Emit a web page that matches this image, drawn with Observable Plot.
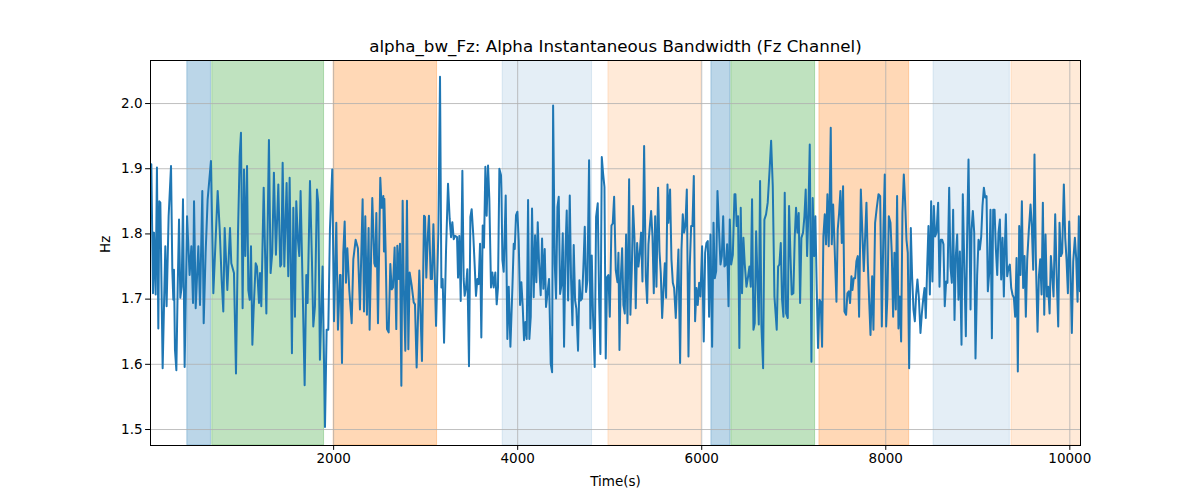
<!DOCTYPE html>
<html>
<head>
<meta charset="utf-8">
<script src="https://cdn.jsdelivr.net/npm/d3@7"></script>
<script src="https://cdn.jsdelivr.net/npm/@observablehq/plot@0.6"></script>
<style>
  body { margin: 0; background: #fff; }
  #chart svg { display: block; font-family: "DejaVu Sans", sans-serif; }
</style>
</head>
<body>
<div id="chart"></div>
<script>
const titleText = "alpha_bw_Fz: Alpha Instantaneous Bandwidth (Fz Channel)";
const xLabel = "Time(s)";
const yLabel = "Hz";
const xTicks = [2000, 4000, 6000, 8000, 10000];
const yTicks = [1.5, 1.6, 1.7, 1.8, 1.9, 2.0];
const xDomain = [10, 10116];
const yDomain = [1.4755, 2.066];

const bandStart = [410, 681, 2000, 3837, 4986, 6105, 6322, 7279, 8519, 9366];
const bandEnd   = [667, 1896, 3124, 4808, 5995, 6312, 7232, 8254, 9348, 10300];
const bandColor = ["#1f77b4", "#2ca02c", "#ff7f0e", "#1f77b4", "#ff7f0e", "#1f77b4", "#2ca02c", "#ff7f0e", "#1f77b4", "#ff7f0e"];
const bandAlpha = [0.3, 0.3, 0.3, 0.12, 0.16, 0.3, 0.3, 0.3, 0.12, 0.16];

const times = [
10,19,37,48,66,80,95,106,117,142,171,185,207,233,247,258,265,276,291,305,320,334,349,363,381,407,435,454,472,483,501,530,548,573,588,609,631,667,693,740,762,783,801,816,845,874,888,917,939,961,979,993,1011,1026,1040,1059,1073,1088,1102,1117,1131,1153,1167,1189,1200,1214,1240,1269,
1297,1315,1333,1351,1373,1399,1420,1431,1446,1464,1489,1507,1522,1547,1562,1580,1594,1612,1627,1641,1663,1685,1703,1717,1743,1764,1779,1797,1819,1833,1851,1880,1906,1924,1942,1960,1985,2004,2029,2047,2069,2076,2091,2105,2120,2134,2149,2170,2196,2214,2239,2264,2286,2315,2330,2344,2362,2380,2391,2420,2442,2453,2464,2482,2507,2522,2540,2547,
2551,2565,2580,2598,2616,2631,2645,2663,2681,2692,2707,2721,2736,2750,2761,2779,2797,2812,2826,2848,2870,2884,2902,2931,2960,2982,2993,3007,3022,3036,3055,3069,3084,3098,3113,3138,3156,3171,3185,3200,3221,3243,3261,3276,3290,3305,3319,3341,3352,3366,3381,3399,3413,3424,3439,3453,3471,3486,3500,3518,3533,3547,3562,3576,3591,3605,3620,3634,3649,3663,3678,3692,3710,3725,3739,3757,3772,3786,3801,3819,
3823,3834,3848,3870,3888,3903,3921,3943,3957,3968,3982,3997,4011,4026,4040,4055,4069,4084,4098,4113,4127,4142,4156,4174,4189,4203,4218,4232,4250,4265,4279,4294,4308,4323,4341,4359,4374,4385,4403,4417,4432,4446,4461,4475,4490,4504,4519,4533,4548,4566,4580,4595,4609,4624,4638,4656,4671,4685,4700,4714,4729,4743,4758,4776,4790,4805,4819,4837,4852,4870,4885,4899,4914,4928,4943,4957,4972,4986,5001,5019,5033,5048,5066,5084,
5095,5106,5120,5135,5149,5164,5178,5193,5211,5225,5240,5254,5269,5283,5298,5312,5327,5341,5356,5374,5392,5407,5421,5436,5450,5465,5479,5494,5508,5526,5541,5555,5570,5584,5599,5613,5628,5638,5656,5671,5686,5700,5718,5733,5747,5765,5780,5794,5809,5823,5838,5856,5870,5885,5899,5914,5928,5943,5957,5972,5986,6004,6022,6037,6051,6066,6080,6095,6113,6128,6142,6157,6171,6189,6204,6218,6233,6247,6262,6276,6291,6305,6320,6338,6356,
6366,6380,6395,6409,6424,6438,6453,6467,6486,6504,6518,6533,6547,6562,6576,6591,6605,6620,6634,6649,6667,6681,6699,6717,6739,6754,6772,6790,6815,6830,6844,6859,6873,6888,6902,6917,6935,6949,6964,6978,6996,7011,7025,7040,7054,7069,7083,7101,7116,7130,7145,7159,7174,7192,7206,7221,7235,7250,7264,7279,7293,7308,7322,7337,7351,7366,7380,7391,7402,7413,7428,7446,7464,7478,7493,7507,7522,7536,7551,7569,7583,7598,7612,7627,
7638,7652,7667,7681,7696,7710,7729,7747,7761,7776,7790,7805,7819,7834,7852,7866,7884,7902,7921,7939,7957,7975,7989,8004,8018,8033,8051,8065,8080,8094,8109,8123,8138,8152,8167,8181,8196,8210,8225,8239,8254,8272,8286,8301,8316,8330,8344,8359,8377,8392,8406,8421,8435,8450,8464,8479,8493,8507,8522,8536,8551,8569,8584,8598,8613,8627,8641,8656,8670,8689,8703,8718,8732,8747,8761,8776,8790,8805,8823,8837,8855,8870,8884,8899,
8921,8932,8946,8961,8975,8993,9008,9022,9037,9051,9066,9080,9095,9109,9124,9138,9153,9167,9182,9196,9211,9225,9240,9254,9269,9283,9294,9305,9319,9334,9348,9363,9377,9392,9406,9421,9435,9450,9464,9479,9493,9508,9522,9537,9555,9573,9587,9602,9616,9631,9649,9664,9678,9693,9707,9722,9736,9751,9765,9780,9794,9809,9823,9841,9856,9874,9888,9903,9917,9935,9950,9964,9979,9993,10008,10022,10037,10055,10069,10084,10098,10109,10116
];

const values = [
1.880,1.907,1.709,1.802,1.707,1.902,1.655,1.850,1.848,1.594,1.781,1.689,1.827,1.904,1.745,1.699,1.745,1.622,1.591,1.714,1.822,1.702,1.719,1.853,1.596,1.827,1.737,1.781,1.694,1.850,1.686,1.781,1.691,1.866,1.663,1.771,1.853,1.912,1.709,1.866,1.807,1.730,1.681,1.809,1.714,1.809,1.755,1.740,1.586,1.802,1.919,1.955,1.686,1.899,1.766,1.904,1.714,1.699,1.781,1.630,1.684,1.755,1.750,1.694,1.740,1.689,1.871,1.678,
1.944,1.740,1.771,1.894,1.768,1.876,1.750,1.753,1.909,1.750,1.878,1.735,1.886,1.617,1.840,1.673,1.850,1.791,1.766,1.866,1.719,1.568,1.737,1.694,1.881,1.761,1.658,1.689,1.868,1.848,1.607,1.750,1.504,1.653,1.653,1.807,1.899,1.666,1.817,1.653,1.737,1.737,1.602,1.771,1.819,1.725,1.778,1.714,1.663,1.761,1.791,1.778,1.684,1.853,1.681,1.827,1.676,1.809,1.653,1.855,1.755,1.750,1.832,1.663,1.886,1.840,1.858,1.773,
1.854,1.774,1.654,1.649,1.754,1.715,1.718,1.779,1.654,1.782,1.731,1.785,1.567,1.851,1.731,1.621,1.851,1.623,1.741,1.721,1.695,1.692,1.595,1.744,1.605,1.828,1.826,1.733,1.792,1.828,1.731,1.731,1.815,1.741,1.659,1.803,2.041,1.718,1.731,1.633,1.772,1.877,1.823,1.795,1.818,1.792,1.797,1.795,1.733,1.797,1.697,1.897,1.731,1.705,1.718,1.746,1.597,1.826,1.838,1.797,1.751,1.705,1.731,1.723,1.785,1.641,1.813,1.779,1.903,1.828,1.905,1.854,1.718,1.741,1.718,1.741,1.692,1.718,1.900,1.890,
1.870,1.760,1.742,1.859,1.639,1.719,1.627,1.719,1.785,1.777,1.829,1.834,1.790,1.691,1.726,1.688,1.637,1.665,1.639,1.852,1.639,1.673,1.839,1.703,1.798,1.726,1.818,1.757,1.706,1.793,1.716,1.777,1.688,1.708,1.731,1.601,1.588,1.997,1.754,1.701,1.841,1.857,1.708,1.721,1.801,1.627,1.772,1.836,1.698,1.859,1.731,1.660,1.783,1.698,1.685,1.621,1.729,1.698,1.701,1.749,1.811,1.711,1.729,1.913,1.655,1.767,1.673,1.596,1.826,1.847,1.698,1.616,1.918,1.893,1.872,1.609,1.734,1.737,1.673,1.813,1.816,1.857,1.744,1.726,
1.771,1.622,1.730,1.778,1.691,1.678,1.799,1.663,1.884,1.676,1.745,1.843,1.794,1.686,1.786,1.750,1.771,1.802,1.727,1.935,1.735,1.694,1.784,1.812,1.835,1.796,1.709,1.827,1.719,1.871,1.773,1.740,1.671,1.714,1.755,1.702,1.876,1.817,1.868,1.761,1.725,1.717,1.671,1.725,1.776,1.602,1.776,1.830,1.802,1.814,1.868,1.612,1.750,1.812,1.812,1.889,1.666,1.717,1.691,1.725,1.704,1.781,1.635,1.771,1.786,1.789,1.673,1.799,1.627,1.817,1.732,1.743,1.866,1.802,1.753,1.766,1.827,1.750,1.753,1.784,1.689,1.822,1.753,1.768,1.861,
1.861,1.812,1.827,1.625,1.840,1.709,1.794,1.755,1.719,1.735,1.750,1.719,1.853,1.653,1.663,1.804,1.735,1.661,1.881,1.658,1.594,1.822,1.830,1.848,1.902,1.943,1.873,1.704,1.653,1.750,1.753,1.786,1.699,1.673,1.863,1.678,1.671,1.843,1.768,1.707,1.709,1.796,1.840,1.802,1.832,1.694,1.794,1.802,1.827,1.868,1.766,1.832,1.937,1.604,1.855,1.766,1.827,1.714,1.625,1.699,1.696,1.627,1.796,1.830,1.784,1.861,1.781,1.858,1.963,1.784,1.845,1.771,1.696,1.807,1.832,1.866,1.786,1.873,1.681,1.676,1.709,1.712,1.694,1.735,
1.714,1.732,1.732,1.758,1.766,1.673,1.868,1.796,1.743,1.796,1.848,1.755,1.699,1.645,1.735,1.653,1.817,1.840,1.861,1.858,1.658,1.809,1.891,1.658,1.704,1.827,1.817,1.771,1.673,1.771,1.684,1.858,1.655,1.704,1.635,1.832,1.891,1.850,1.791,1.771,1.594,1.809,1.735,1.684,1.666,1.707,1.730,1.704,1.648,1.678,1.699,1.717,1.671,1.750,1.812,1.707,1.850,1.727,1.843,1.796,1.802,1.848,1.719,1.791,1.791,1.784,1.689,1.727,1.725,1.871,1.750,1.725,1.837,1.668,1.766,1.799,1.699,1.773,1.630,1.861,1.740,1.643,1.796,1.914,
1.684,1.807,1.835,1.802,1.609,1.737,1.791,1.776,1.796,1.843,1.871,1.856,1.858,1.712,1.740,1.837,1.640,1.837,1.837,1.778,1.737,1.802,1.822,1.730,1.794,1.704,1.781,1.830,1.735,1.748,1.753,1.717,1.707,1.702,1.673,1.763,1.589,1.812,1.737,1.850,1.717,1.766,1.673,1.761,1.807,1.845,1.812,1.745,1.922,1.761,1.650,1.735,1.761,1.707,1.848,1.676,1.799,1.704,1.719,1.678,1.766,1.737,1.704,1.830,1.740,1.658,1.817,1.766,1.771,1.876,1.794,1.761,1.709,1.819,1.740,1.648,1.758,1.794,1.763,1.696,1.827,1.712,1.796
];

const bands = bandStart.map((s, i) => ({ x1: s, x2: bandEnd[i], color: bandColor[i], alpha: bandAlpha[i] }));

const font = "DejaVu Sans, sans-serif";

const chart = Plot.plot({
  width: 1200,
  height: 500,
  marginLeft: 150,
  marginRight: 120,
  marginTop: 60,
  marginBottom: 55,
  style: { fontFamily: font, fontSize: "13.5px", color: "#000", background: "#fff" },
  x: { domain: xDomain, ticks: xTicks, tickFormat: d3.format("d") },
  y: { domain: yDomain, ticks: yTicks, tickFormat: d3.format(".1f") },
  color: { type: "identity" },
  opacity: { type: "identity" },
  marks: [
    Plot.rect(bands, { x1: "x1", x2: "x2", fill: "color", fillOpacity: "alpha", stroke: "color", strokeOpacity: "alpha", strokeWidth: 1, clip: true }),
    Plot.gridX(xTicks, { stroke: "#b0b0b0", strokeOpacity: 1, strokeWidth: 0.8 }),
    Plot.gridY(yTicks, { stroke: "#b0b0b0", strokeOpacity: 1, strokeWidth: 0.8 }),
    Plot.line(times, { x: times, y: values, stroke: "#1f77b4", strokeWidth: 2, clip: true }),
    Plot.frame({ stroke: "#000", strokeWidth: 1 }),
    Plot.axisX(xTicks, { tickSize: 4.9, tickPadding: 3, label: null, fontSize: 13.5, tickFormat: d3.format("d") }),
    Plot.axisY(yTicks, { tickSize: 4.9, tickPadding: 3, label: null, fontSize: 13.5, tickFormat: d3.format(".1f") }),
    Plot.text([titleText], { frameAnchor: "top", lineAnchor: "middle", dy: -14, fontSize: 16.7, fill: "#000" }),
    Plot.text([xLabel], { frameAnchor: "bottom", lineAnchor: "middle", dy: 36, fontSize: 13.5, fill: "#000" }),
    Plot.text([yLabel], { frameAnchor: "left", lineAnchor: "middle", dx: -45, rotate: -90, fontSize: 13.5, fill: "#000" })
  ]
});

document.getElementById("chart").appendChild(chart);
</script>
</body>
</html>
